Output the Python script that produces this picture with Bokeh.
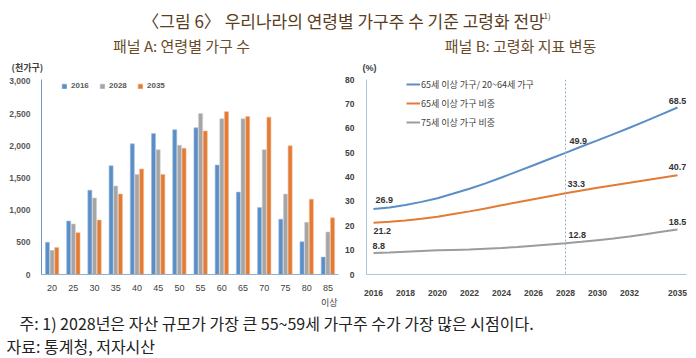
from bokeh.plotting import figure
from bokeh.models import (Range1d, FactorRange, Legend, LegendItem, FixedTicker, Label, Title,
                          Span, ColumnDataSource, NumeralTickFormatter)
from bokeh.layouts import column, row
from bokeh.transform import dodge
from bokeh.core.properties import value
from bokeh.embed import file_html
from bokeh.resources import INLINE

# ---------------- data ----------------
ages = ["20", "25", "30", "35", "40", "45", "50", "55", "60", "65", "70", "75", "80", "85"]
hh_2016 = [500, 830, 1310, 1690, 2030, 2190, 2250, 2280, 1700, 1280, 1040, 860, 510, 270]
hh_2028 = [375, 785, 1190, 1375, 1555, 1940, 2010, 2500, 2420, 2420, 1940, 1250, 810, 660]
hh_2035 = [420, 650, 845, 1250, 1640, 1555, 1960, 2230, 2530, 2455, 2445, 2000, 1170, 880]

years = list(range(2016, 2036))
ratio_65_2064 = [26.9, 27.5, 28.5, 29.8, 31.3, 33.2, 35.2, 37.4, 39.8, 42.3, 44.8, 47.4, 49.9,
                 52.5, 55.0, 57.6, 60.2, 62.9, 65.7, 68.5]
share_65 = [21.2, 21.6, 22.2, 22.9, 23.7, 24.8, 25.9, 27.1, 28.4, 29.6, 30.9, 32.1, 33.3,
            34.5, 35.6, 36.6, 37.6, 38.7, 39.7, 40.7]
share_75 = [8.8, 9.0, 9.3, 9.6, 9.9, 10.1, 10.3, 10.6, 10.9, 11.3, 11.8, 12.3, 12.8,
            13.4, 14.1, 14.8, 15.6, 16.5, 17.5, 18.5]
year_ticks = [2016, 2018, 2020, 2022, 2024, 2026, 2028, 2030, 2032, 2035]
label_years = [2016, 2028, 2035]

BLUE = "#5b8ec6"
GRAY = "#a5a5a5"
ORANGE = "#e27b36"
KFONT = "Noto Sans CJK KR"
NFONT = "Liberation Sans"
TITLE_C = "#5a3e22"
SUB_C = "#6a4c2c"


def blank(w, h):
    f = figure(width=w, height=h, x_range=Range1d(0, w), y_range=Range1d(h, 0),
               output_backend="svg", toolbar_location=None,
               min_border_left=0, min_border_right=0, min_border_top=0, min_border_bottom=0)
    f.axis.visible = False
    f.grid.visible = False
    f.outline_line_color = None
    return f


# ---------------- header ----------------
H1 = 73
top = blank(688, H1)
top.add_layout(Label(x=343, y=20, text="〈그림 6〉 우리나라의 연령별 가구주 수 기준 고령화 전망",
                     text_align="center", text_baseline="middle", text_font=KFONT,
                     text_font_size="17px", text_color=TITLE_C))
top.add_layout(Label(x=543, y=15, text="1)", text_align="left", text_baseline="middle",
                     text_font=KFONT, text_font_size="8px", text_color=TITLE_C))
top.add_layout(Label(x=181, y=45, text="패널 A: 연령별 가구 수", text_align="center",
                     text_baseline="middle", text_font=KFONT, text_font_size="15px",
                     text_color=SUB_C))
top.add_layout(Label(x=520, y=45, text="패널 B: 고령화 지표 변동", text_align="center",
                     text_baseline="middle", text_font=KFONT, text_font_size="15px",
                     text_color=SUB_C))
top.add_layout(Label(x=11, y=67, text="(천가구)", text_align="left", text_baseline="middle",
                     text_font=KFONT, text_font_size="9px", text_font_style="bold",
                     text_color="#404040"))
top.add_layout(Label(x=362, y=67, text="(%)", text_align="left", text_baseline="middle",
                     text_font=NFONT, text_font_size="9px", text_font_style="bold",
                     text_color="#404040"))

# ---------------- panel A ----------------
src1 = ColumnDataSource(dict(age=ages, y2016=hh_2016, y2028=hh_2028, y2035=hh_2035))
p1 = figure(width=340, height=235, x_range=FactorRange(factors=ages), y_range=Range1d(0, 3030),
            output_backend="svg", toolbar_location=None,
            min_border_left=41, min_border_right=2, min_border_top=6, min_border_bottom=30)
p1.outline_line_color = None
p1.xgrid.visible = False
p1.ygrid.visible = False

bw = 0.19
r16 = p1.vbar(x=dodge("age", -0.22, range=p1.x_range), top="y2016", width=bw, source=src1,
              fill_color=BLUE, line_color="#9dbde0", line_width=0.6)
r28 = p1.vbar(x=dodge("age", 0.0, range=p1.x_range), top="y2028", width=bw, source=src1,
              fill_color=GRAY, line_color="#cfcfcf", line_width=0.6)
r35 = p1.vbar(x=dodge("age", 0.22, range=p1.x_range), top="y2035", width=bw, source=src1,
              fill_color=ORANGE, line_color="#f3b88f", line_width=0.6)

p1.yaxis.ticker = FixedTicker(ticks=[0, 500, 1000, 1500, 2000, 2500, 3000])
p1.yaxis.formatter = NumeralTickFormatter(format="0,0")
p1.yaxis.major_label_text_font = NFONT
p1.yaxis.major_label_text_font_style = "bold"
p1.yaxis.major_label_text_font_size = "8.5px"
p1.yaxis.major_label_text_color = "#595959"
p1.yaxis.major_label_standoff = 5
p1.yaxis.axis_line_color = "#6f96c2"
p1.xaxis.axis_line_color = "#8fb0d3"
for ax in (p1.xaxis, p1.yaxis):
    ax.major_tick_line_color = None
    ax.minor_tick_line_color = None
p1.xaxis.major_label_text_font = NFONT
p1.xaxis.major_label_text_font_size = "9px"
p1.xaxis.major_label_text_color = "#404040"
p1.xaxis.major_label_standoff = 4
# second line under the last age group ("85 이상")
p1.add_layout(Title(text="이상", align="right", offset=1, standoff=0,
                    text_font=KFONT, text_font_size="9px", text_font_style="normal",
                    text_color="#404040"), "below")

leg1 = Legend(items=[LegendItem(label="2016", renderers=[r16]),
                     LegendItem(label="2028", renderers=[r28]),
                     LegendItem(label="2035", renderers=[r35])],
              orientation="horizontal", location=(20, 184),
              glyph_width=6, glyph_height=6, label_height=8, label_standoff=4, spacing=8,
              padding=0, margin=0, border_line_color=None, background_fill_alpha=0,
              label_text_font=NFONT, label_text_font_style="bold",
              label_text_font_size="8px", label_text_color="#595959")
p1.add_layout(leg1)

# ---------------- panel B ----------------
src2 = ColumnDataSource(dict(year=years, a=ratio_65_2064, b=share_65, c=share_75))
p2 = figure(width=348, height=235, x_range=Range1d(2015.5625, 2035.5625), y_range=Range1d(0, 80),
            output_backend="svg", toolbar_location=None,
            min_border_left=26, min_border_right=2, min_border_top=6, min_border_bottom=30)
p2.outline_line_color = None
p2.xgrid.visible = False
p2.ygrid.visible = False

p2.add_layout(Span(location=2028, dimension="height", line_color="#8db3cf",
                   line_dash="2 2", line_width=1))

la = p2.line("year", "a", source=src2, line_color=BLUE, line_width=2)
lb = p2.line("year", "b", source=src2, line_color=ORANGE, line_width=2)
lc = p2.line("year", "c", source=src2, line_color="#9c9c9c", line_width=2)

p2.xaxis.ticker = FixedTicker(ticks=year_ticks)
p2.yaxis.ticker = FixedTicker(ticks=list(range(0, 81, 10)))
for ax in (p2.xaxis, p2.yaxis):
    ax.major_tick_line_color = None
    ax.minor_tick_line_color = None
    ax.axis_line_color = "#a9c6dd"
    ax.major_label_text_font = NFONT
    ax.major_label_text_font_style = "bold"
    ax.major_label_text_font_size = "8.5px"
    ax.major_label_text_color = "#404040"
p2.yaxis.major_label_standoff = 6
p2.xaxis.major_label_standoff = 9

# data labels
offsets = {  # (series, year): (dx, dy, align)
    ("a", 2016): (2, -9, "left"), ("b", 2016): (0, 8, "left"), ("c", 2016): (-1, -7, "left"),
    ("a", 2028): (4, -12, "left"), ("b", 2028): (2, -9, "left"), ("c", 2028): (3, -8, "left"),
    ("a", 2035): (0, -7, "center"), ("b", 2035): (0, -8, "center"), ("c", 2035): (0, -7, "center"),
}
series = {"a": ratio_65_2064, "b": share_65, "c": share_75}
for align in ("left", "center"):
    xs, ys, ts, dxs, dys = [], [], [], [], []
    for key, vals in series.items():
        for yr in label_years:
            dx, dy, al = offsets[(key, yr)]
            if al != align:
                continue
            v = vals[years.index(yr)]
            xs.append(yr); ys.append(v); ts.append(f"{v:.1f}")
            dxs.append(dx); dys.append(dy)
    s = ColumnDataSource(dict(x=xs, y=ys, t=ts, dx=dxs, dy=dys))
    p2.text(x="x", y="y", text="t", x_offset="dx", y_offset="dy", source=s,
            text_align=align, text_baseline="middle", text_font=value(NFONT),
            text_font_style="bold", text_font_size="9px", text_color="#333333")

leg2 = Legend(items=[LegendItem(label="65세 이상 가구/ 20~64세 가구", renderers=[la]),
                     LegendItem(label="65세 이상 가구 비중", renderers=[lb]),
                     LegendItem(label="75세 이상 가구 비중", renderers=[lc])],
              location=(40, 145), glyph_width=14, glyph_height=14, label_height=14,
              label_standoff=1, spacing=5, padding=0, margin=0, border_line_color=None,
              background_fill_alpha=0, label_text_font=KFONT, label_text_font_size="9px",
              label_text_color="#404040")
p2.add_layout(leg2)

# ---------------- footnotes ----------------
H3 = 48
foot = blank(688, H3)
foot.add_layout(Label(x=19, y=14, text="주: 1) 2028년은 자산 규모가 가장 큰 55~59세 가구주 수가 가장 많은 시점이다.",
                      text_align="left", text_baseline="middle", text_font=KFONT,
                      text_font_size="16px", text_color="#222222"))
foot.add_layout(Label(x=6, y=37, text="자료: 통계청, 저자시산", text_align="left",
                      text_baseline="middle", text_font=KFONT, text_font_size="16px",
                      text_color="#222222"))

layout = column(top, row(p1, p2, spacing=0), foot, spacing=0)
open("out.html", "w").write(file_html(layout, INLINE))
